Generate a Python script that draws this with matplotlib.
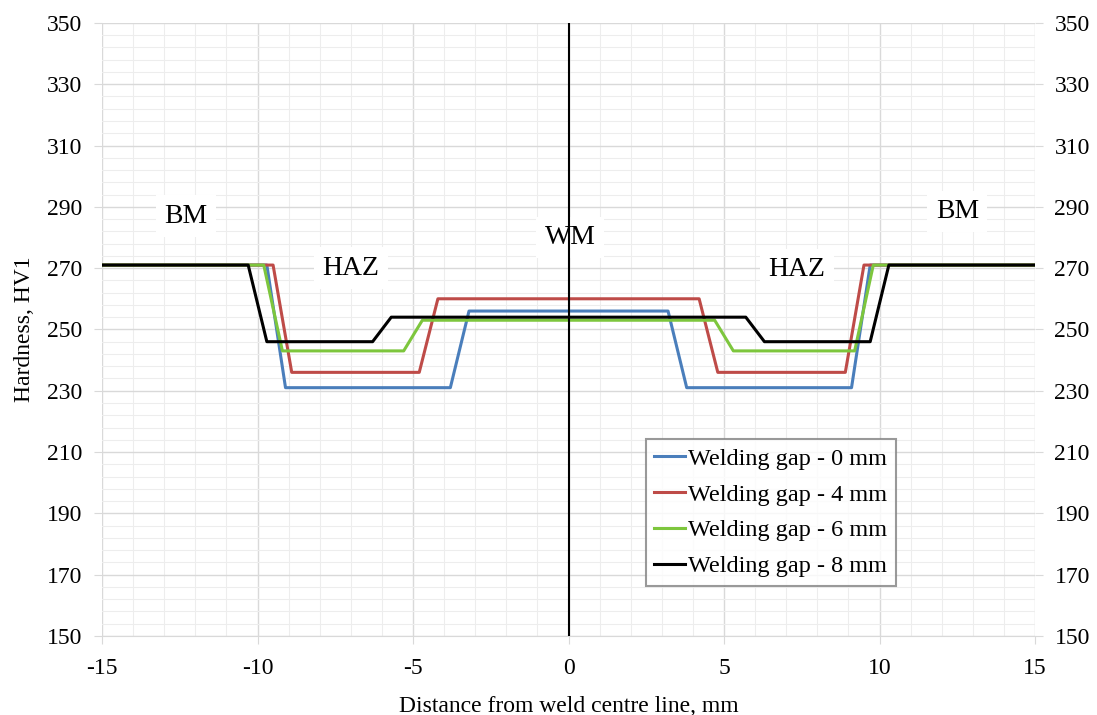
import matplotlib.pyplot as plt
from matplotlib.ticker import MultipleLocator

plt.rcParams['font.family'] = ['Liberation Serif', 'DejaVu Serif']
plt.rcParams['axes.unicode_minus'] = False

# data (distance mm, hardness HV1)
x_gap0 = [-15, -9.7, -9.1, -3.8, -3.2, 3.2, 3.8, 9.1, 9.7, 15]
hv_gap0 = [271, 271, 231, 231, 256, 256, 231, 231, 271, 271]

x_gap4 = [-15, -9.5, -8.9, -4.8, -4.2, 4.2, 4.8, 8.9, 9.5, 15]
hv_gap4 = [271, 271, 236, 236, 260, 260, 236, 236, 271, 271]

x_gap6 = [-15, -9.8, -9.2, -5.3, -4.7, 4.7, 5.3, 9.2, 9.8, 15]
hv_gap6 = [271, 271, 243, 243, 253, 253, 243, 243, 271, 271]

x_gap8 = [-15, -10.3, -9.7, -6.3, -5.7, 5.7, 6.3, 9.7, 10.3, 15]
hv_gap8 = [271, 271, 246, 246, 254, 254, 246, 246, 271, 271]

labels = ['Welding gap - 0 mm', 'Welding gap - 4 mm',
          'Welding gap - 6 mm', 'Welding gap - 8 mm']
colors = ['#4a7ebb', '#be4b48', '#7dc63d', '#000000']

zones = ['BM', 'HAZ', 'WM', 'HAZ', 'BM']
zone_x = [-12.3, -7.0, 0.05, 7.35, 12.5]
zone_y = [287, 270, 280, 269.5, 288.5]

fig = plt.figure(figsize=(10.97, 7.15), dpi=100)
ax = fig.add_axes([0.093, 0.1105, 0.8505, 0.8575])

for xs, ys, lab, c in zip([x_gap0, x_gap4, x_gap6, x_gap8],
                          [hv_gap0, hv_gap4, hv_gap6, hv_gap8], labels, colors):
    ax.plot(xs, ys, color=c, lw=2.2, label=lab, zorder=3)

# weld centre line
ax.axvline(0, color='black', lw=1.5, zorder=4)

for t, tx, ty in zip(zones, zone_x, zone_y):
    ax.text(tx, ty, t, ha='center', va='center', fontsize=20, zorder=2,
            bbox=dict(facecolor='white', edgecolor='none', pad=6))

ax.set_xlim(-15, 15)
ax.set_ylim(150, 350)
ax.xaxis.set_major_locator(MultipleLocator(5))
ax.xaxis.set_minor_locator(MultipleLocator(1))
ax.yaxis.set_major_locator(MultipleLocator(20, offset=10))
ax.yaxis.set_minor_locator(MultipleLocator(4, offset=2))
ax.grid(which='major', color='#d9d9d9', lw=1.0, zorder=0)
ax.grid(which='minor', color='#ededed', lw=0.8, zorder=0)
ax.set_axisbelow(True)

for s in ['top', 'right', 'left']:
    ax.spines[s].set_visible(False)
ax.spines['bottom'].set_color('#d9d9d9')

ax.tick_params(which='major', labelsize=17, color='#d9d9d9', length=6, pad=6)
ax.tick_params(which='minor', length=0)
ax.tick_params(axis='y', which='major', labelleft=True, labelright=True,
               left=True, right=True, pad=8)
ax.tick_params(axis='x', which='major', pad=10)

ax.set_xlabel('Distance from weld centre line, mm', fontsize=17, labelpad=12)
ax.set_ylabel('Hardness, HV1', fontsize=17, labelpad=9)

leg = ax.legend(loc='upper left', bbox_to_anchor=(0.583, 0.321), fontsize=17.5,
                frameon=True, fancybox=False, edgecolor='#808080',
                handlelength=1.25, handletextpad=0.15, borderpad=0.35,
                labelspacing=0.57, borderaxespad=0)
leg.get_frame().set_linewidth(1.5)

fig.savefig('out.png', dpi=100)
